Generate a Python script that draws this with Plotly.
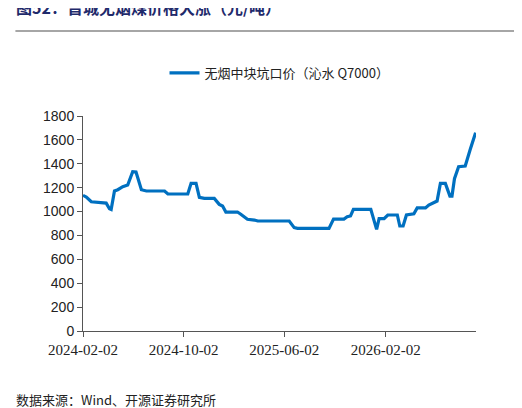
import plotly.graph_objects as go

dates = ["2024-02-02", "2024-02-10", "2024-02-22", "2024-03-09", "2024-03-13", "2024-03-29",
         "2024-04-06", "2024-04-10", "2024-04-18", "2024-04-26", "2024-05-08", "2024-05-20",
         "2024-06-01", "2024-06-09", "2024-06-22", "2024-07-04", "2024-08-17", "2024-08-25",
         "2024-10-12", "2024-10-20", "2024-11-01", "2024-11-09", "2024-11-21", "2024-12-15",
         "2024-12-27", "2025-01-04", "2025-01-12", "2025-02-09", "2025-02-17", "2025-03-05",
         "2025-03-22", "2025-03-30", "2025-06-14", "2025-06-26", "2025-07-04", "2025-09-18",
         "2025-09-29", "2025-10-24", "2025-11-01", "2025-11-09", "2025-11-16", "2025-12-28",
         "2026-01-11", "2026-01-17", "2026-01-29", "2026-02-07", "2026-03-02", "2026-03-08",
         "2026-03-16", "2026-03-24", "2026-04-11", "2026-04-19", "2026-05-09", "2026-05-17",
         "2026-06-06", "2026-06-14", "2026-06-26", "2026-07-07", "2026-07-12", "2026-07-18",
         "2026-07-28", "2026-08-13", "2026-08-25", "2026-09-07"]
price = [1136, 1122, 1082, 1080, 1074, 1071, 1024, 1018, 1172, 1183, 1208, 1222,
         1334, 1331, 1183, 1172, 1172, 1147, 1147, 1236, 1236, 1119, 1110, 1110,
         1060, 1046, 996, 996, 977, 935, 929, 921, 921, 865, 859, 859,
         937, 937, 957, 963, 1018, 1018, 851, 940, 940, 971, 971, 879,
         879, 971, 982, 1030, 1030, 1055, 1088, 1236, 1236, 1130, 1130, 1275,
         1375, 1381, 1520, 1660]
tick_dates = ["2024-02-02", "2024-10-02", "2025-06-02", "2026-02-02"]

fig = go.Figure()
fig.add_trace(go.Scatter(x=dates, y=price, mode="lines", name="无烟中块坑口价（沁水 Q7000）",
                         line=dict(color="#0070C0", width=3.2)))

fig.update_layout(
    width=522, height=408, plot_bgcolor="white", paper_bgcolor="white",
    margin=dict(l=75, r=54, t=108, b=85),
    font=dict(family="Noto Sans CJK SC", size=13, color="#222"),
    showlegend=True,
    legend=dict(orientation="h", x=0.5, xanchor="center", y=1.2, yanchor="middle",
                font=dict(size=13, color="#222")),
    annotations=[
        dict(text="<b>图52：晋城无烟煤价格大涨（元/吨）</b>", xref="paper", yref="paper",
             x=-0.175, y=1.505, xanchor="left", yanchor="middle", showarrow=False,
             font=dict(size=16, color="#1F2A6B", family="Noto Sans CJK SC")),
        dict(text="数据来源：Wind、开源证券研究所", xref="paper", yref="paper",
             x=-0.175, y=-0.32, xanchor="left", yanchor="middle", showarrow=False,
             font=dict(size=13, color="#222", family="Noto Sans CJK SC")),
    ],
    shapes=[dict(type="line", xref="paper", yref="paper", x0=-0.172, x1=1.12, y0=1.395, y1=1.395,
                 line=dict(color="#888", width=1.5))],
)
fig.update_xaxes(type="date", range=["2024-02-02", "2026-09-08"], tickvals=tick_dates,
                 ticktext=tick_dates, showgrid=False, showline=True, linecolor="#555",
                 ticks="outside", ticklen=5, tickcolor="#555",
                 tickfont=dict(family="Liberation Serif", size=15, color="#222"))
fig.update_yaxes(range=[0, 1800], dtick=200, showgrid=False, showline=True, linecolor="#555",
                 ticks="outside", ticklen=5, tickcolor="#555", zeroline=False,
                 tickfont=dict(family="Liberation Sans", size=14, color="#222"))

fig.write_html("out.html")
